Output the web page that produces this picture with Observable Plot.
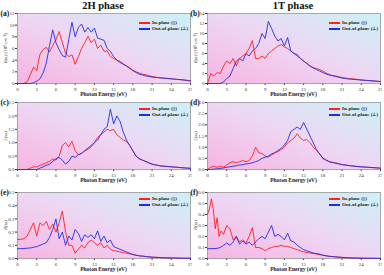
<!DOCTYPE html>
<html><head><meta charset="utf-8">
<script src="https://cdn.jsdelivr.net/npm/d3@7"></script>
<script src="https://cdn.jsdelivr.net/npm/@observablehq/plot@0.6"></script>
<style>
body{margin:0;background:#fff;}
#root{position:relative;width:384px;height:275px;overflow:hidden;font-family:"Liberation Serif",serif;}
.p{position:absolute;}
.t{position:absolute;white-space:nowrap;color:#222;}
</style></head>
<body><div id="root"></div>
<script>
// shared energy grid (eV)
const energy = [0,0.5,1,1.5,2,2.5,3,3.5,4,4.5,5,5.5,6,6.5,7,7.5,8,8.5,9,9.5,10,10.5,11,11.5,12,12.5,13,13.5,14,14.5,15,15.5,16,16.5,17,17.5,18,18.5,19,19.5,20,20.5,21,21.5,22,22.5,23,23.5,24,24.5,25,25.5,26,26.5,27];
const xTicks = [0,3,6,9,12,15,18,21,24,27];
const titles = ["2H phase","1T phase"];
const seriesNames = ["In-plane (||)","Out-of-plane (\u22a5)"];

// (a) 2H absorption
const aIn  = [0,0,0,0.3,1.5,2.8,2.2,5,5.8,6.2,5.4,6.5,7.5,8.9,7.0,5.2,4.6,4.9,3.3,4.6,6.0,7.0,8.1,7.0,7.6,6.0,6.6,5.5,5.6,4.6,4.3,4.0,3.8,3.4,3.0,2.7,2.3,2.0,1.8,1.6,1.5,1.35,1.2,1.1,1.0,0.95,0.9,0.85,0.8,0.75,0.7,0.65,0.6,0.55,0.5];
const aOut = [0,0,0,0,0,0.1,0.4,0.8,1.8,3.5,6.5,9.2,7.0,5.8,4.8,4.5,7.5,10.5,8.0,9.6,10.2,8.8,9.6,8.8,9.5,7.8,7.6,7.4,6.0,5.5,4.6,4.0,3.6,3.3,3.0,2.6,2.2,1.9,1.6,1.45,1.3,1.2,1.1,1.05,1.0,0.95,0.9,0.85,0.8,0.75,0.7,0.65,0.6,0.5,0.4];
// (b) 1T absorption
const bIn  = [0,2.0,1.5,2.2,2.0,3.5,4.5,4.0,5.0,3.5,5.0,5.5,6.0,7.0,8.6,5.0,5.0,5.5,5.0,6.0,6.5,7.0,7.5,7.8,7.3,7.0,6.5,6.0,5.5,5.0,4.5,4.0,3.5,3.2,3.0,2.8,2.5,2.1,1.8,1.6,1.5,1.35,1.2,1.1,1.0,0.95,0.9,0.8,0.7,0.65,0.6,0.55,0.5,0.45,0.4];
const bOut = [0,0,0,0,0,0.3,1.0,1.5,3.0,4.5,5.0,4.5,6.0,5.5,6.5,7.0,8.0,10.0,9.0,12.4,11.0,9.5,8.5,9.0,7.5,9.2,6.5,6.0,5.8,5.0,4.5,4.0,3.5,3.1,2.8,2.5,2.2,1.9,1.7,1.55,1.4,1.25,1.1,1.0,0.9,0.85,0.8,0.75,0.7,0.65,0.6,0.55,0.5,0.45,0.4];
// (c) 2H loss
const cIn  = [0,0,0,0,0.05,0.1,0.1,0.15,0.2,0.25,0.3,0.4,0.35,0.5,0.9,1.0,0.85,1.05,0.7,0.55,0.6,0.7,0.75,0.85,1.0,1.2,1.3,1.4,1.5,1.45,1.5,1.3,1.2,1.1,1.05,0.9,0.7,0.5,0.4,0.35,0.3,0.25,0.2,0.18,0.15,0.13,0.12,0.11,0.1,0.09,0.08,0.07,0.06,0.055,0.05];
const cOut = [0,0,0,0,0,0,0,0.05,0.1,0.15,0.2,0.3,0.4,0.45,0.35,0.2,0.3,0.5,0.45,0.55,0.6,0.7,0.8,0.9,1.0,1.1,1.3,1.5,1.6,2.25,1.7,2.0,1.8,1.4,1.1,0.9,0.7,0.5,0.4,0.35,0.3,0.25,0.2,0.17,0.15,0.13,0.12,0.11,0.1,0.09,0.08,0.07,0.06,0.05,0.04];
// (d) 1T loss
const dIn  = [0,0.1,0.15,0.1,0.15,0.1,0.2,0.3,0.35,0.3,0.35,0.4,0.35,0.4,0.6,1.0,0.75,0.72,0.6,0.55,0.65,0.75,0.8,0.9,1.0,1.2,1.3,1.4,1.6,1.4,1.3,1.35,1.2,1.0,0.85,0.7,0.5,0.42,0.35,0.32,0.3,0.26,0.22,0.2,0.18,0.16,0.15,0.13,0.12,0.11,0.1,0.09,0.08,0.07,0.06];
const dOut = [0,0,0.02,0.03,0.05,0.07,0.1,0.12,0.15,0.17,0.2,0.22,0.25,0.27,0.3,0.35,0.4,0.5,0.55,0.6,0.7,0.75,0.85,0.95,1.1,1.3,1.7,1.8,1.9,1.8,2.1,1.8,1.5,1.2,0.9,0.7,0.5,0.42,0.35,0.31,0.28,0.25,0.22,0.2,0.18,0.16,0.14,0.13,0.12,0.11,0.1,0.09,0.08,0.07,0.06];
// (e) 2H reflectivity
const eIn  = [0.145,0.145,0.15,0.17,0.22,0.27,0.17,0.27,0.25,0.28,0.22,0.26,0.2,0.27,0.36,0.2,0.1,0.1,0.04,0.07,0.1,0.08,0.12,0.14,0.12,0.1,0.12,0.08,0.1,0.07,0.06,0.055,0.05,0.045,0.04,0.035,0.03,0.025,0.02,0.018,0.015,0.012,0.01,0.009,0.008,0.006,0.005,0.0045,0.004,0.0035,0.003,0.0025,0.002,0.002,0.002];
const eOut = [0.075,0.075,0.076,0.078,0.08,0.085,0.09,0.1,0.11,0.12,0.16,0.22,0.3,0.15,0.2,0.1,0.17,0.14,0.22,0.19,0.13,0.18,0.16,0.18,0.15,0.21,0.13,0.17,0.12,0.14,0.09,0.08,0.07,0.06,0.05,0.04,0.03,0.025,0.02,0.018,0.015,0.012,0.01,0.009,0.008,0.006,0.005,0.0045,0.004,0.0035,0.003,0.0025,0.002,0.002,0.002];
// (f) 1T reflectivity (in-plane on its own finer grid)
const fInE = [0,0.3,0.6,0.9,1.2,1.5,1.8,2.1,2.5,3,3.5,4,4.5,5,5.5,6,6.5,7,7.5,8,8.5,9,9.5,10,10.5,11,11.5,12,12.5,13,13.5,14,14.5,15,16,17,18,19,20,21,22,23,24,25,26,27];
const fIn  = [0.4,0.45,0.54,0.45,0.27,0.37,0.2,0.25,0.22,0.3,0.27,0.17,0.2,0.15,0.17,0.14,0.2,0.28,0.1,0.1,0.09,0.07,0.09,0.1,0.11,0.11,0.12,0.11,0.11,0.1,0.09,0.08,0.07,0.06,0.05,0.04,0.03,0.02,0.015,0.01,0.006,0.004,0.003,0.002,0.002,0.001];
const fOut = [0.09,0.09,0.09,0.092,0.1,0.12,0.14,0.12,0.15,0.2,0.13,0.16,0.13,0.15,0.12,0.15,0.18,0.2,0.18,0.24,0.3,0.2,0.22,0.2,0.17,0.23,0.16,0.15,0.12,0.1,0.08,0.07,0.06,0.05,0.045,0.04,0.03,0.025,0.02,0.018,0.015,0.012,0.01,0.008,0.006,0.005,0.004,0.0035,0.003,0.0025,0.002,0.002,0.0015,0.001,0.001];

const labelI = "I(\u03c9) (10\u2075 cm\u207b\u00b9)";
const panels = [
  {id:"a", col:0, row:0, inE:energy, inY:aIn,  outY:aOut, yTicks:[0,2,4,6,8,10,12], ymax:12, fmt:d3.format("d"), ylab:labelI},
  {id:"b", col:1, row:0, inE:energy, inY:bIn,  outY:bOut, yTicks:[0,2,4,6,8,10,12,14], ymax:14, fmt:d3.format("d"), ylab:labelI},
  {id:"c", col:0, row:1, inE:energy, inY:cIn,  outY:cOut, yTicks:[0,0.5,1,1.5,2,2.5], ymax:2.5, fmt:d3.format(".1f"), ylab:"L(\u03c9)"},
  {id:"d", col:1, row:1, inE:energy, inY:dIn,  outY:dOut, yTicks:[0,0.5,1,1.5,2,2.5,3], ymax:3, fmt:d3.format(".1f"), ylab:"L(\u03c9)"},
  {id:"e", col:0, row:2, inE:energy, inY:eIn,  outY:eOut, yTicks:[0,0.1,0.2,0.3,0.4,0.5], ymax:0.5, fmt:d3.format(".1f"), ylab:"R(\u03c9)"},
  {id:"f", col:1, row:2, inE:fInE,   inY:fIn,  outY:fOut, yTicks:[0,0.1,0.2,0.3,0.4,0.5,0.6], ymax:0.6, fmt:d3.format(".1f"), ylab:"R(\u03c9)"}
];
const rowTop = [0, 89, 179];
const rowH = [96, 93, 92];
const colLeft = [0, 190];
const legendDy = [7, 4, 4];
const root = document.getElementById("root");

function addText(txt, left, top, css){
  const d = document.createElement("div");
  d.className = "t"; d.textContent = txt;
  d.style.left = left+"px"; d.style.top = top+"px";
  Object.assign(d.style, css||{});
  root.appendChild(d); return d;
}

titles.forEach((t,i)=>{
  const d = addText(t, colLeft[i] + 103, 0, {fontWeight:"bold", fontSize:"10.5px", transform:"translateX(-50%)", color:"#111"});
});

panels.forEach(p=>{
  const W = 192, H = rowH[p.row], mL = 17, mR = 2, mT = 13, mB = H - 13 - (p.row===0?70:p.row===1?67:66);
  const inData = p.inE.map((e,i)=>({e, v:p.inY[i]}));
  const outData = energy.map((e,i)=>({e, v:p.outY[i]}));
  const svg = Plot.plot({
    width: W, height: H, marginLeft: mL, marginRight: mR, marginTop: mT, marginBottom: mB,
    style: {fontFamily: "Liberation Serif", fontSize: "5px", background: "transparent", color:"#333"},
    x: {domain:[0,27], ticks: xTicks, tickSize: 2, tickPadding: 1.5, label: null},
    y: {domain:[0,p.ymax], ticks: p.yTicks, tickSize: 2, tickPadding: 1, label: null, tickFormat: p.fmt},
    marks: [
      Plot.frame({fill: "white", stroke: "#777", strokeWidth: 0.6}),
      Plot.line(inData, {x:"e", y:"v", stroke:"#ff1f1f", strokeWidth: 0.9}),
      Plot.line(outData, {x:"e", y:"v", stroke:"#1f2fe8", strokeWidth: 0.9})
    ]
  });
  const gid = "grad-"+p.id;
  const ns = "http://www.w3.org/2000/svg";
  const defs = document.createElementNS(ns, "defs");
  defs.innerHTML = `<linearGradient id="${gid}" x1="0" y1="1" x2="1" y2="0">
     <stop offset="0" stop-color="#f7b3e2"/>
     <stop offset="0.5" stop-color="#eed6f3"/>
     <stop offset="1" stop-color="#cdf1f6"/></linearGradient>`;
  svg.insertBefore(defs, svg.firstChild);
  svg.querySelectorAll('[aria-label="frame"]').forEach(el=>{
    const rects = el.tagName.toLowerCase()==="rect" ? [el] : el.querySelectorAll("rect");
    rects.forEach(r=>r.setAttribute("fill", `url(#${gid})`));
  });
  const wrap = document.createElement("div");
  wrap.className = "p";
  wrap.style.left = colLeft[p.col]+"px"; wrap.style.top = rowTop[p.row]+"px";
  wrap.appendChild(svg);
  root.appendChild(wrap);

  const L = colLeft[p.col], T = rowTop[p.row];
  const plotBottom = T + H - mB;
  // panel letter
  addText("("+p.id+")", L + 0.5, T + 9, {fontWeight:"bold", fontSize:"7.5px", color:"#111"});
  // x label
  addText("Photon Energy (eV)", L + (mL + W - mR)/2, plotBottom + 7.5, {fontSize:"5.5px", fontWeight:"bold", transform:"translateX(-50%)", color:"#222"});
  // y label
  addText(p.ylab, L + 5, T + mT + (H - mT - mB)/2, {fontSize:"5px", fontStyle:"italic", transform:"translate(-50%,-50%) rotate(-90deg)", color:"#222"});
  // legend
  const lg = document.createElement("div");
  lg.className = "t";
  lg.style.left = (L + 139)+"px"; lg.style.top = (T + mT + legendDy[p.row])+"px";
  lg.style.fontSize = "5px"; lg.style.fontWeight = "bold"; lg.style.lineHeight = "6px";
  const cols = ["#ff1f1f","#1f2fe8"];
  lg.innerHTML = seriesNames.map((n,i)=>`<div style="display:flex;align-items:center;"><span style="display:inline-block;width:11px;height:1.2px;background:${cols[i]};margin-right:2px"></span>${n}</div>`).join("");
  root.appendChild(lg);
});
</script></body></html>
